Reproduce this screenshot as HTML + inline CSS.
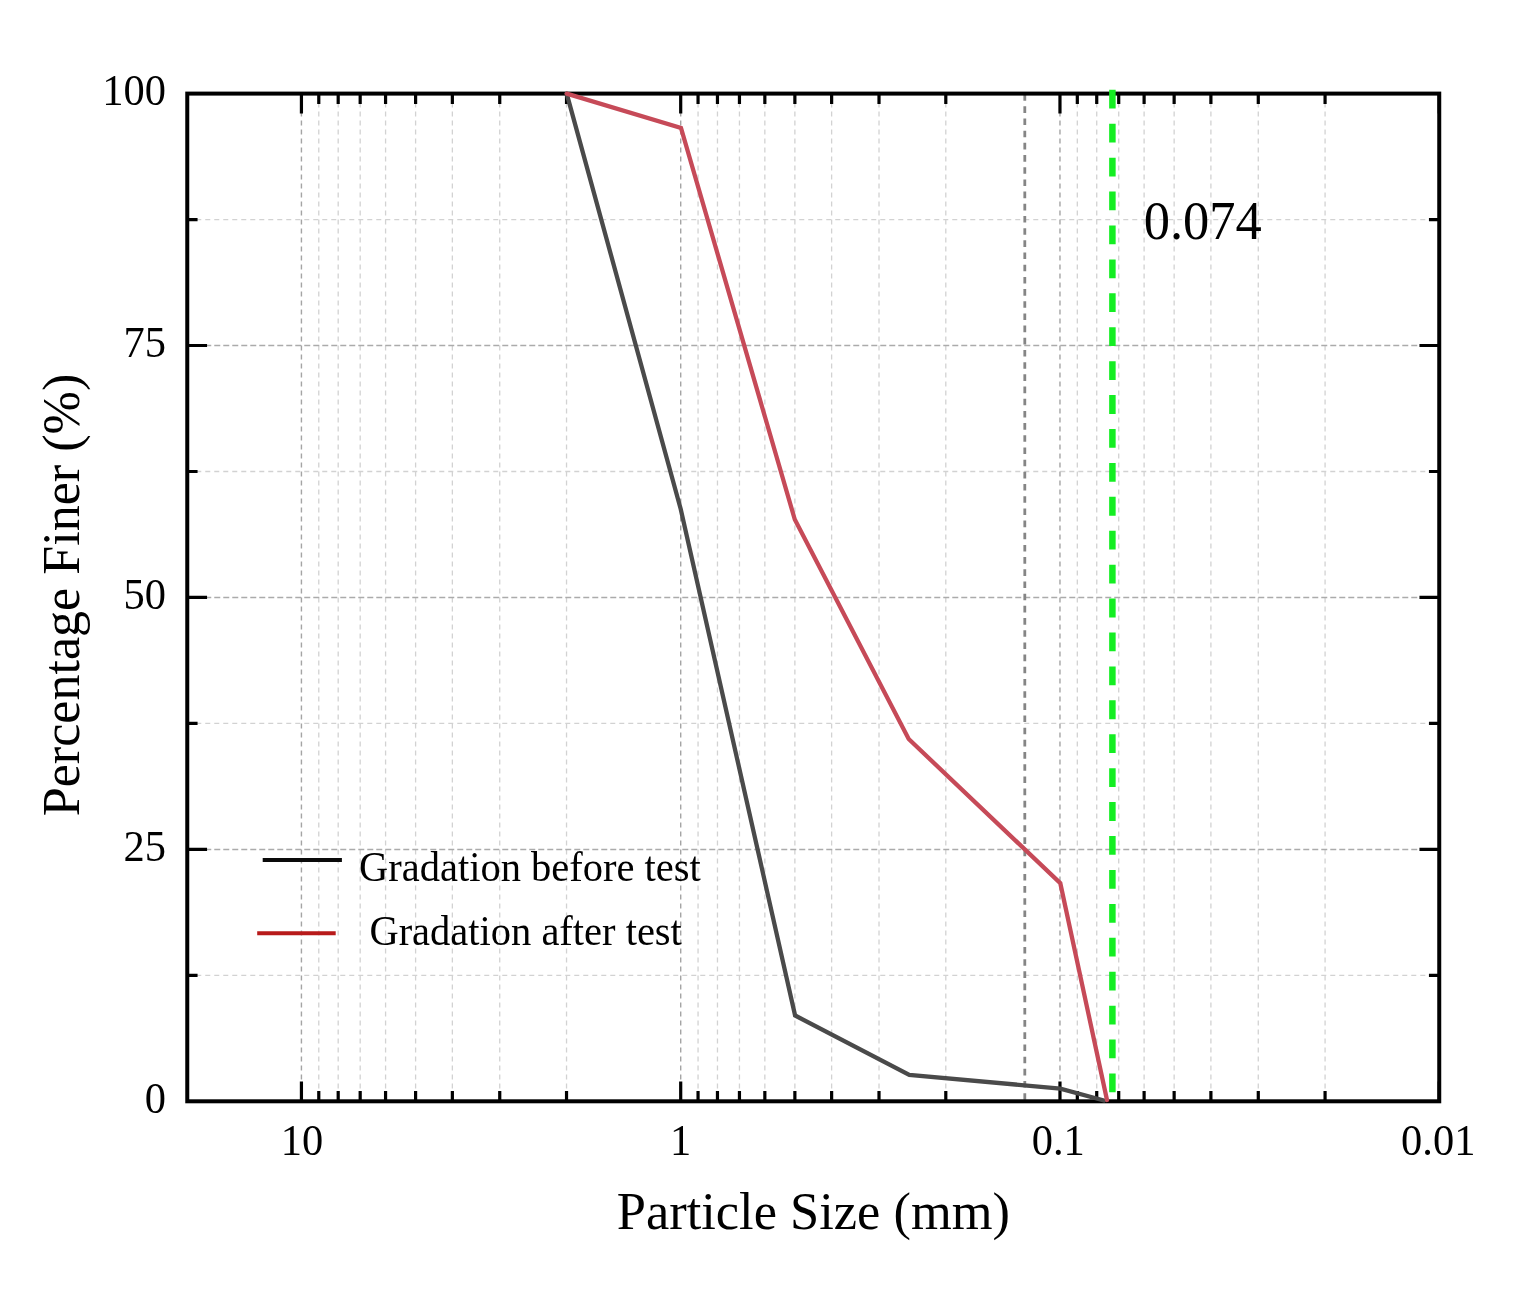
<!DOCTYPE html>
<html><head><meta charset="utf-8"><title>Gradation chart</title>
<style>html,body{margin:0;padding:0;background:#fff;}svg{display:block;}</style></head>
<body><svg width="1519" height="1291" viewBox="0 0 1519 1291">
<rect width="1519" height="1291" fill="#fff"/>
<g stroke="#d2d2d2" stroke-width="1.3" stroke-dasharray="5 4"><line x1="566.53" y1="93.6" x2="566.53" y2="1101.3"/><line x1="499.74" y1="93.6" x2="499.74" y2="1101.3"/><line x1="452.36" y1="93.6" x2="452.36" y2="1101.3"/><line x1="415.6" y1="93.6" x2="415.6" y2="1101.3"/><line x1="385.57" y1="93.6" x2="385.57" y2="1101.3"/><line x1="360.18" y1="93.6" x2="360.18" y2="1101.3"/><line x1="338.19" y1="93.6" x2="338.19" y2="1101.3"/><line x1="318.78" y1="93.6" x2="318.78" y2="1101.3"/><line x1="945.8" y1="93.6" x2="945.8" y2="1101.3"/><line x1="879.01" y1="93.6" x2="879.01" y2="1101.3"/><line x1="831.63" y1="93.6" x2="831.63" y2="1101.3"/><line x1="794.87" y1="93.6" x2="794.87" y2="1101.3"/><line x1="764.84" y1="93.6" x2="764.84" y2="1101.3"/><line x1="739.45" y1="93.6" x2="739.45" y2="1101.3"/><line x1="717.46" y1="93.6" x2="717.46" y2="1101.3"/><line x1="698.05" y1="93.6" x2="698.05" y2="1101.3"/><line x1="1325.07" y1="93.6" x2="1325.07" y2="1101.3"/><line x1="1258.28" y1="93.6" x2="1258.28" y2="1101.3"/><line x1="1210.9" y1="93.6" x2="1210.9" y2="1101.3"/><line x1="1174.14" y1="93.6" x2="1174.14" y2="1101.3"/><line x1="1144.11" y1="93.6" x2="1144.11" y2="1101.3"/><line x1="1118.72" y1="93.6" x2="1118.72" y2="1101.3"/><line x1="1096.73" y1="93.6" x2="1096.73" y2="1101.3"/><line x1="1077.32" y1="93.6" x2="1077.32" y2="1101.3"/><line x1="187.26" y1="975.34" x2="1439.24" y2="975.34"/><line x1="187.26" y1="723.41" x2="1439.24" y2="723.41"/><line x1="187.26" y1="471.49" x2="1439.24" y2="471.49"/><line x1="187.26" y1="219.56" x2="1439.24" y2="219.56"/></g>
<g stroke="#ababab" stroke-width="1.5" stroke-dasharray="6 3"><line x1="187.26" y1="849.38" x2="1439.24" y2="849.38"/><line x1="187.26" y1="597.45" x2="1439.24" y2="597.45"/><line x1="187.26" y1="345.52" x2="1439.24" y2="345.52"/></g>
<g stroke="#a4a4a4" stroke-width="1.4" stroke-dasharray="5 4"><line x1="301.43" y1="93.6" x2="301.43" y2="1101.3"/><line x1="680.7" y1="93.6" x2="680.7" y2="1101.3"/><line x1="1059.97" y1="93.6" x2="1059.97" y2="1101.3"/></g>
<line x1="1024.8" y1="94.12" x2="1024.8" y2="1101.3" stroke="#858585" stroke-width="2.8" stroke-dasharray="6.6 5.584"/>
<path d="M301.43 1101.3v-19.8M301.43 93.6v19.8M680.7 1101.3v-19.8M680.7 93.6v19.8M566.53 1101.3v-10.3M566.53 93.6v10.3M499.74 1101.3v-10.3M499.74 93.6v10.3M452.36 1101.3v-10.3M452.36 93.6v10.3M415.6 1101.3v-10.3M415.6 93.6v10.3M385.57 1101.3v-10.3M385.57 93.6v10.3M360.18 1101.3v-10.3M360.18 93.6v10.3M338.19 1101.3v-10.3M338.19 93.6v10.3M318.78 1101.3v-10.3M318.78 93.6v10.3M1059.97 1101.3v-19.8M1059.97 93.6v19.8M945.8 1101.3v-10.3M945.8 93.6v10.3M879.01 1101.3v-10.3M879.01 93.6v10.3M831.63 1101.3v-10.3M831.63 93.6v10.3M794.87 1101.3v-10.3M794.87 93.6v10.3M764.84 1101.3v-10.3M764.84 93.6v10.3M739.45 1101.3v-10.3M739.45 93.6v10.3M717.46 1101.3v-10.3M717.46 93.6v10.3M698.05 1101.3v-10.3M698.05 93.6v10.3M1439.24 1101.3v-19.8M1439.24 93.6v19.8M1325.07 1101.3v-10.3M1325.07 93.6v10.3M1258.28 1101.3v-10.3M1258.28 93.6v10.3M1210.9 1101.3v-10.3M1210.9 93.6v10.3M1174.14 1101.3v-10.3M1174.14 93.6v10.3M1144.11 1101.3v-10.3M1144.11 93.6v10.3M1118.72 1101.3v-10.3M1118.72 93.6v10.3M1096.73 1101.3v-10.3M1096.73 93.6v10.3M1077.32 1101.3v-10.3M1077.32 93.6v10.3M187.26 975.34h10.3M1439.24 975.34h-10.3M187.26 849.38h19.8M1439.24 849.38h-19.8M187.26 723.41h10.3M1439.24 723.41h-10.3M187.26 597.45h19.8M1439.24 597.45h-19.8M187.26 471.49h10.3M1439.24 471.49h-10.3M187.26 345.52h19.8M1439.24 345.52h-19.8M187.26 219.56h10.3M1439.24 219.56h-10.3" stroke="#000" stroke-width="3.2" fill="none"/>
<rect x="187.26" y="93.6" width="1251.98" height="1007.7" fill="none" stroke="#000" stroke-width="4"/>
<polyline points="566.7,93.6 680.7,509.0 795.1,1015.5 909.3,1074.8 1060.3,1088.6 1104.0,1100.5" fill="none" stroke="#4a4a4a" stroke-width="4.3" stroke-linejoin="miter" stroke-linecap="round"/>
<polyline points="566.7,93.6 681.0,128.0 794.8,519.5 908.7,739.0 1060.3,883.2 1107.0,1100.0" fill="none" stroke="#c64a58" stroke-width="4.3" stroke-linejoin="miter" stroke-linecap="round"/>
<line x1="1112.4" y1="89.8" x2="1112.4" y2="1101" stroke="#14ee22" stroke-width="6.5" stroke-dasharray="18.8 15.12"/>
<line x1="262.7" y1="860" x2="341.9" y2="860" stroke="#0a0a0a" stroke-width="4"/>
<line x1="257.2" y1="933.3" x2="335.7" y2="933.3" stroke="#b81a1a" stroke-width="4"/>
<g font-family="'Liberation Serif', 'Times New Roman', serif" fill="#000"><text transform="translate(166.00,105.10) scale(1,1.035)" font-size="42.5" text-anchor="end">100</text><text transform="translate(166.00,357.02) scale(1,1.035)" font-size="42.5" text-anchor="end">75</text><text transform="translate(166.00,608.95) scale(1,1.035)" font-size="42.5" text-anchor="end">50</text><text transform="translate(166.00,860.88) scale(1,1.035)" font-size="42.5" text-anchor="end">25</text><text transform="translate(166.00,1112.80) scale(1,1.035)" font-size="42.5" text-anchor="end">0</text><text transform="translate(302.10,1154.80) scale(1,1.035)" font-size="42.5" text-anchor="middle">10</text><text transform="translate(680.70,1154.80) scale(1,1.035)" font-size="42.5" text-anchor="middle">1</text><text transform="translate(1058.30,1154.80) scale(1,1.035)" font-size="42.5" text-anchor="middle">0.1</text><text transform="translate(1438.30,1154.80) scale(1,1.035)" font-size="42.5" text-anchor="middle">0.01</text><text transform="translate(616.80,1228.90) scale(1,1.01)" font-size="52.45">Particle Size (mm)</text><text transform="translate(79.20,816.30) rotate(-90)" font-size="52.1">Percentage Finer (%)</text><text transform="translate(359.10,880.70) scale(1,1.04)" font-size="40.5">Gradation before test</text><text transform="translate(369.40,944.50) scale(1,1.04)" font-size="40.5">Gradation after test</text><text transform="translate(1143.70,238.60) scale(1,1.035)" font-size="52.5">0.074</text></g>
</svg></body></html>
